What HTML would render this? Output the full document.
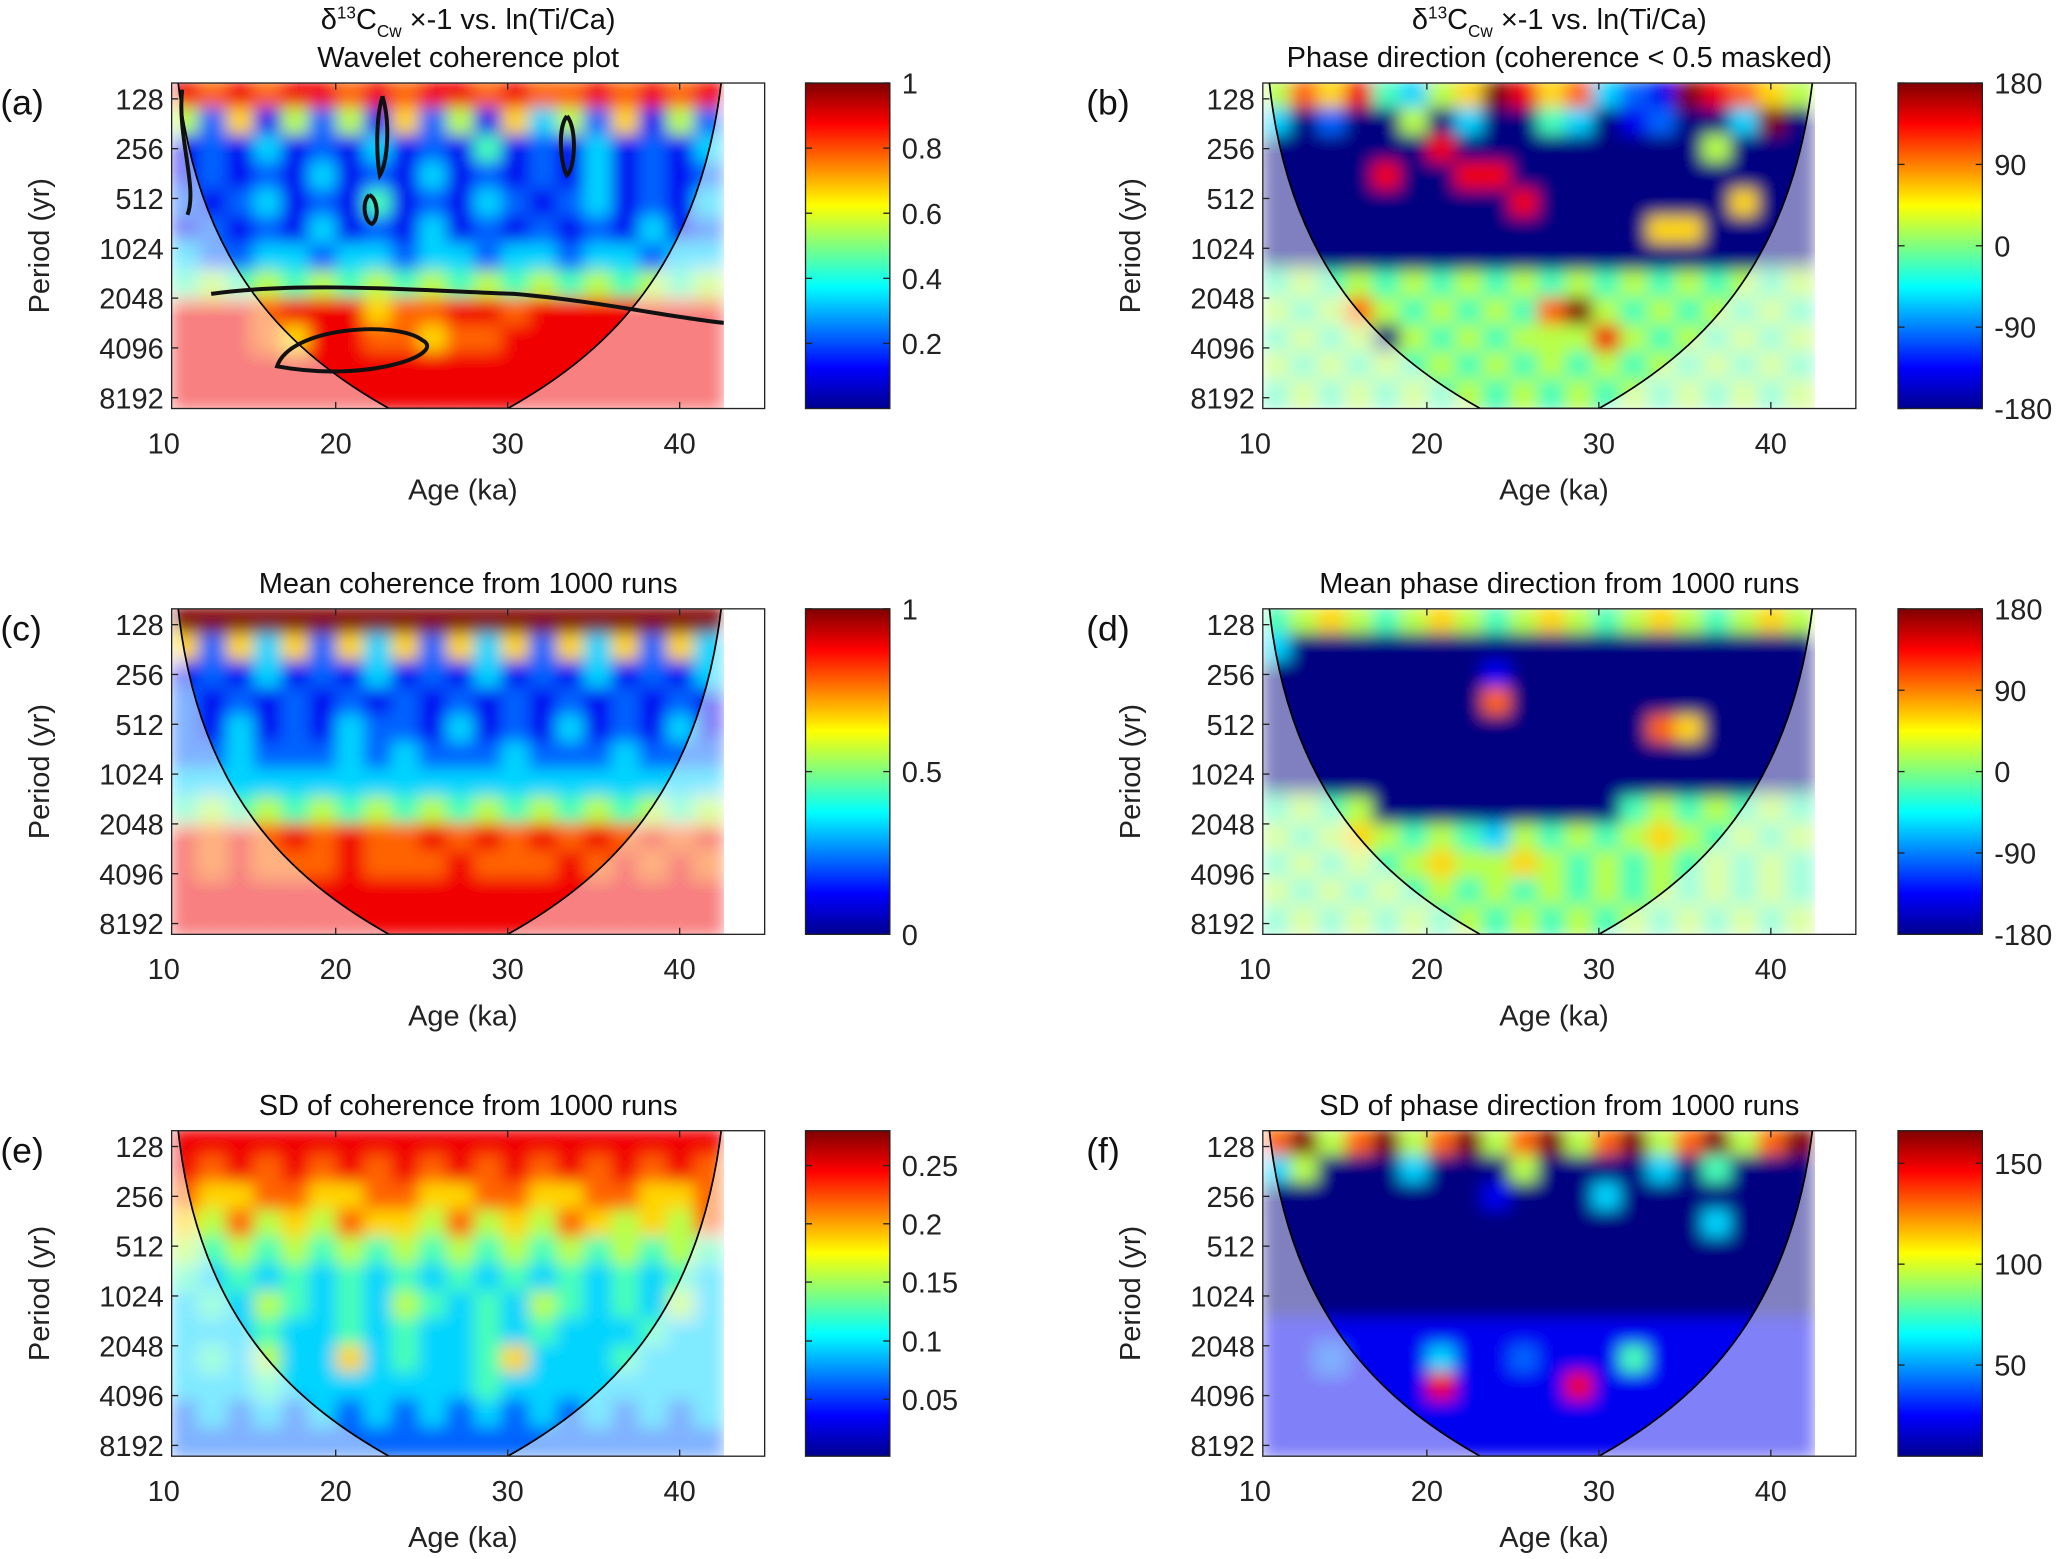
<!DOCTYPE html>
<html><head><meta charset="utf-8"><style>
html,body{margin:0;padding:0;background:#fff}
svg{display:block;font-family:"Liberation Sans",Arial,sans-serif}
</style></head><body>
<svg id="fig" width="2067" height="1559" viewBox="0 0 1568 1183" xmlns="http://www.w3.org/2000/svg">
<defs>
<filter id="blur" x="-5%" y="-5%" width="110%" height="110%"><feGaussianBlur stdDeviation="6"/></filter>
<linearGradient id="jet" x1="0" y1="1" x2="0" y2="0">
<stop offset="0" stop-color="#00008f"/><stop offset="0.125" stop-color="#0000ff"/><stop offset="0.375" stop-color="#00ffff"/><stop offset="0.625" stop-color="#ffff00"/><stop offset="0.875" stop-color="#ff0000"/><stop offset="1" stop-color="#800000"/>
</linearGradient>
</defs>
<g id="root"></g>
</svg>
<script>
// Heatmap values (digit 0-9 -> 0..1 on jet scale), 12 period rows (128 -> 8192 yr) x 20 age columns (10.5 -> 42.5 ka)
const gridA = ["87878878788787787878","52615251625163526152","12131213121412131213","12121312131212131212","21231214121321231213","12121312131212121312","32233233233233233233","45454545454545454545","88878886778878888888","88876887767788888888","88888888888888888888","88888888888888888888"];
const gridB = ["57684356986732198765","30200503004301200390","00000080000000005000","00008008800000000000","00000000080000000600","00000000000000660000","00000000000000000000","45454545454545454545","54575454547954545454","45450545455585454545","54545454545454545454","45454545454545454545"];
const gridC = ["99999999999999999999","62636263626362636263","12131213121312131213","21212121212121212121","21312132213121312131","22322232322232223222","33333333333333333333","45454545454545454545","87878787787878787878","87877787778777878787","88888888888888888888","88888888888888888888"];
const gridD = ["45654565456545654565","30000000000000000000","00000000100000000000","00000000700000000000","00000000000000760000","00000000000000000000","00000000000000000000","45450000000004545454","54565454354545654545","45454565565454545454","54545454545454545454","45454545454545454545"];
const gridE = ["88888888888888888888","87878787878787878787","76677667766776677667","65756576657565765657","54545454545454545454","43434343434343434343","34354343543435434353","33343343433434333433","34353363433463334333","33343333333433333333","23232323232323232323","22222222222222222222"];
const gridF = ["79579579579579579579","35000300050000304000","00000000100030000000","00000000000000003000","00000000000000000000","00000000000000000000","00000000000000000000","11111111111111111111","11211131121114111111","11111181111811111111","11111111111111111111","11111111111111111111"];
const xTicks = [10,20,30,40];
const periodTicks = [128,256,512,1024,2048,4096,8192];
const cbA = [[1,1],[0.8,0.8],[0.6,0.6],[0.4,0.4],[0.2,0.2]];
const cbB = [[180,1],[90,0.75],[0,0.5],[-90,0.25],[-180,0]];
const cbC = [[1,1],[0.5,0.5],[0,0]];
const cbE = [[0.25,0.893],[0.2,0.714],[0.15,0.535],[0.1,0.354],[0.05,0.175]];
const cbF = [[150,0.9],[100,0.59],[50,0.28]];

const NS="http://www.w3.org/2000/svg";
const root=document.getElementById('root');
function mk(tag,attrs,parent){const e=document.createElementNS(NS,tag);for(const k in attrs)e.setAttribute(k,attrs[k]);(parent||root).appendChild(e);return e;}
function jet(v){const c=t=>Math.round(255*Math.max(0,Math.min(1,t)));return `rgb(${c(1.5-Math.abs(4*v-3))},${c(1.5-Math.abs(4*v-2))},${c(1.5-Math.abs(4*v-1))})`;}

const panels=[
 {id:'a',left:true,y0:63,grid:gridA,cb:cbA,title:['sup','Wavelet coherence plot']},
 {id:'b',left:false,y0:63,grid:gridB,cb:cbB,title:['sup','Phase direction (coherence < 0.5 masked)']},
 {id:'c',left:true,y0:462,grid:gridC,cb:cbC,title:['Mean coherence from 1000 runs']},
 {id:'d',left:false,y0:462,grid:gridD,cb:cbB,title:['Mean phase direction from 1000 runs']},
 {id:'e',left:true,y0:858,grid:gridE,cb:cbE,title:['SD of coherence from 1000 runs']},
 {id:'f',left:false,y0:858,grid:gridF,cb:cbF,title:['SD of phase direction from 1000 runs']}
];
const H=247;
panels.forEach(p=>{
 const px=p.left?130:958, x10=p.left?124:952, pr=px+450, dr=px+419;
 const ax=a=>x10+(a-10)*13.05;
 const yTop128=p.y0+12;
 const ay=per=>yTop128+(Math.log2(per)-7)*37.8;
 const g=mk('g',{});
 
 
 const cid='clip'+p.id;
 const cp=mk('clipPath',{id:cid},g);mk('rect',{x:px,y:p.y0,width:dr-px,height:H},cp);
 const hm=mk('g',{'clip-path':`url(#${cid})`},g);
 
 
 const inner=mk('g',{filter:'url(#blur)'},hm);
 const rows=p.grid.length, cols=p.grid[0].length;
 const a0=10.5,a1=42.5;
 for(let r=0;r<rows;r++)for(let c=0;c<cols;c++){
  const v=parseInt(p.grid[r][c])/9;
  const xa=ax(a0+(a1-a0)*c/cols), xb=ax(a0+(a1-a0)*(c+1)/cols);
  const ya=p.y0+H*r/rows-2, yb=p.y0+H*(r+1)/rows+2;
  const cell=mk('rect',{x:xa-1,y:ya,width:xb-xa+2,height:yb-ya,fill:jet(v)},inner);
  
  
 }
 const L=px+5,R=dr-2,B=p.y0+H,T=p.y0;
 const cone=`M ${L} ${T} C ${px+20} ${T+140}, ${px+90} ${T+205}, ${px+165} ${B} L ${px+255} ${B} C ${px+330} ${T+205}, ${px+400} ${T+140}, ${R} ${T}`;
 const over=mk('path',{d:`M ${px} ${T-2} ${cone.replace('M','L')} L ${dr} ${T-2} L ${dr} ${B+2} L ${px} ${B+2} Z`,fill:'#fff','fill-opacity':0.5},hm);
 
 
 const cl=mk('path',{d:cone,fill:'none',stroke:'#000','stroke-width':1.3},hm);
 
 
 if(p.id==='a'){
  const ct=mk('path',{d:`M ${px+30} ${T+160} C ${px+100} ${T+150}, ${px+200} ${T+158}, ${px+260} ${T+160} C ${px+320} ${T+165}, ${px+380} ${T+178}, ${dr} ${T+182} M ${px+80} ${T+215} C ${px+90} ${T+185}, ${px+170} ${T+180}, ${px+190} ${T+195} C ${px+210} ${T+205}, ${px+150} ${T+228}, ${px+80} ${T+215} Z M ${px+8} ${T+5} C ${px+4} ${T+40}, ${px+20} ${T+80}, ${px+12} ${T+100} M ${px+160} ${T+10} c -6 20, -4 50, -2 60 c 6 -10, 8 -40, 2 -60 M ${px+300} ${T+25} c -8 10, -4 40, 0 45 c 6 -5, 8 -35, 0 -45 M ${px+150} ${T+85} c -6 5, -4 20, 2 22 c 6 -4, 4 -20, -2 -22`,fill:'none',stroke:'#111','stroke-width':3},hm);
  
  
 }
 const fr=mk('rect',{x:px,y:p.y0,width:pr-px,height:H,fill:'none',stroke:'#222','stroke-width':1},g);
 
 
 xTicks.forEach(t=>{
  const x=ax(t);
  if(x>=px){mk('line',{x1:x,y1:p.y0+H,x2:x,y2:p.y0+H-5,stroke:'#222'},g);mk('line',{x1:x,y1:p.y0,x2:x,y2:p.y0+5,stroke:'#222'},g);}
  const tl=mk('text',{x:x,y:p.y0+H+34,'font-size':22,'text-anchor':'middle',fill:'#222'},g);tl.textContent=t;
  
  
 });
 periodTicks.forEach(t=>{
  const y=ay(t);
  mk('line',{x1:px,y1:y,x2:px+5,y2:y,stroke:'#222'},g);
  const tl=mk('text',{x:px-6,y:y+8,'font-size':22,'text-anchor':'end',fill:'#222'},g);tl.textContent=t;
  
  
 });
 const xt=mk('text',{x:px+221,y:p.y0+H+69,'font-size':22,'text-anchor':'middle',fill:'#222'},g);xt.textContent='Age (ka)';
 
 
 const yt=mk('text',{x:0,y:0,'font-size':22,'text-anchor':'middle',fill:'#222',transform:`translate(${px-93},${p.y0+H/2}) rotate(-90)`},g);yt.textContent='Period (yr)';
 
 
 const lb=mk('text',{x:px-130+(p.left?0:-4),y:p.y0+24,'font-size':27,fill:'#111'},g);lb.textContent='('+p.id+')';
 
 
 const cx=px+225;
 if(p.title[0]==='sup'){
  const t1=mk('text',{x:cx,y:p.y0-41,'font-size':22,'text-anchor':'middle',fill:'#111'},g);
  t1.innerHTML='δ<tspan font-size="13" dy="-8">13</tspan><tspan dy="8">C</tspan><tspan font-size="13" dy="6">Cw</tspan><tspan dy="-6"> ×-1  vs. ln(Ti/Ca)</tspan>';
  
  
  const t2=mk('text',{x:cx,y:p.y0-12,'font-size':22,'text-anchor':'middle',fill:'#111'},g);t2.textContent=p.title[1];
  
  
 } else {
  const t=mk('text',{x:cx,y:p.y0-12,'font-size':22,'text-anchor':'middle',fill:'#111'},g);t.textContent=p.title[0];
  
  
 }
 const cbx=p.left?611:1440;
 const cb=mk('rect',{x:cbx,y:p.y0,width:64,height:H,fill:'url(#jet)',stroke:'#222','stroke-width':1},g);
 
 
 p.cb.forEach(([lab,f])=>{
  const y=p.y0+H*(1-f);
  mk('line',{x1:cbx,y1:y,x2:cbx+5,y2:y,stroke:'#222'},g);
  mk('line',{x1:cbx+59,y1:y,x2:cbx+64,y2:y,stroke:'#222'},g);
  const tl=mk('text',{x:cbx+73,y:y+8,'font-size':22,fill:'#222'},g);tl.textContent=lab;
  
  
 });
});
</script>
</body></html>
